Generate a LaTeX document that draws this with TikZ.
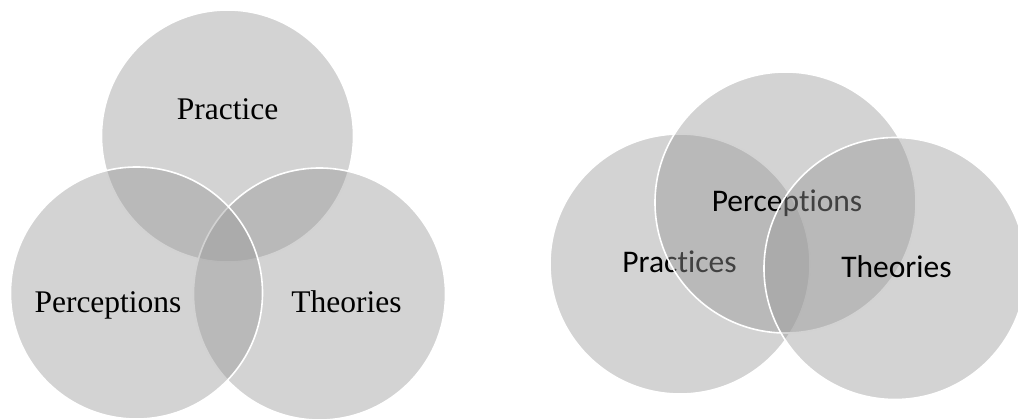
\documentclass[tikz,border=0pt]{standalone}
\usepackage{fontspec}
\setmainfont{Liberation Serif}
\newfontfamily\calib[Ligatures=NoCommon,RawFeature={-liga;-clig;-dlig}]{Carlito}
\definecolor{circgray}{RGB}{152,152,152}
\tikzset{
  venn/.style={circle, inner sep=0pt, outer sep=0pt, fill=circgray, fill opacity=0.43, draw=white, draw opacity=1, line width=1.6pt},
  serlabel/.style={anchor=base, inner sep=0pt, font=\fontsize{31.5}{36}\selectfont, text=black},
  callabel/.style={anchor=base, inner sep=0pt, font=\calib\fontsize{31.5}{36}\selectfont, text=black}
}
\begin{document}
\begin{tikzpicture}[x=1pt,y=-1pt]
\useasboundingbox (0,0) rectangle (1018,419);
\clip (0,0) rectangle (1018,419);
% left diagram
\node[venn, minimum size=252pt] (lpr) at (227.5,136) {};
\node[venn, minimum size=252pt] (lth) at (319.5,294) {};
\node[venn, minimum size=252pt] (lpe) at (136.5,293) {};
\node[serlabel] (tpr) at (227.5,120) {Practice};
\node[serlabel] (tpe) at (108,313) {Perceptions};
\node[serlabel] (tth) at (346.5,313) {Theories};
% right diagram
\node[venn, minimum size=260pt] (rpr) at (680,264) {};
\node[callabel] (upr) at (679.5,273) {Practices};
\node[venn, minimum size=261pt] (rpe) at (785.5,202.5) {};
\node[callabel] (upe) at (787,212) {Perceptions};
\node[venn, minimum size=262pt] (rth) at (895,268.5) {};
\node[callabel] (uth) at (896.5,278) {Theories};
\end{tikzpicture}
\end{document}
